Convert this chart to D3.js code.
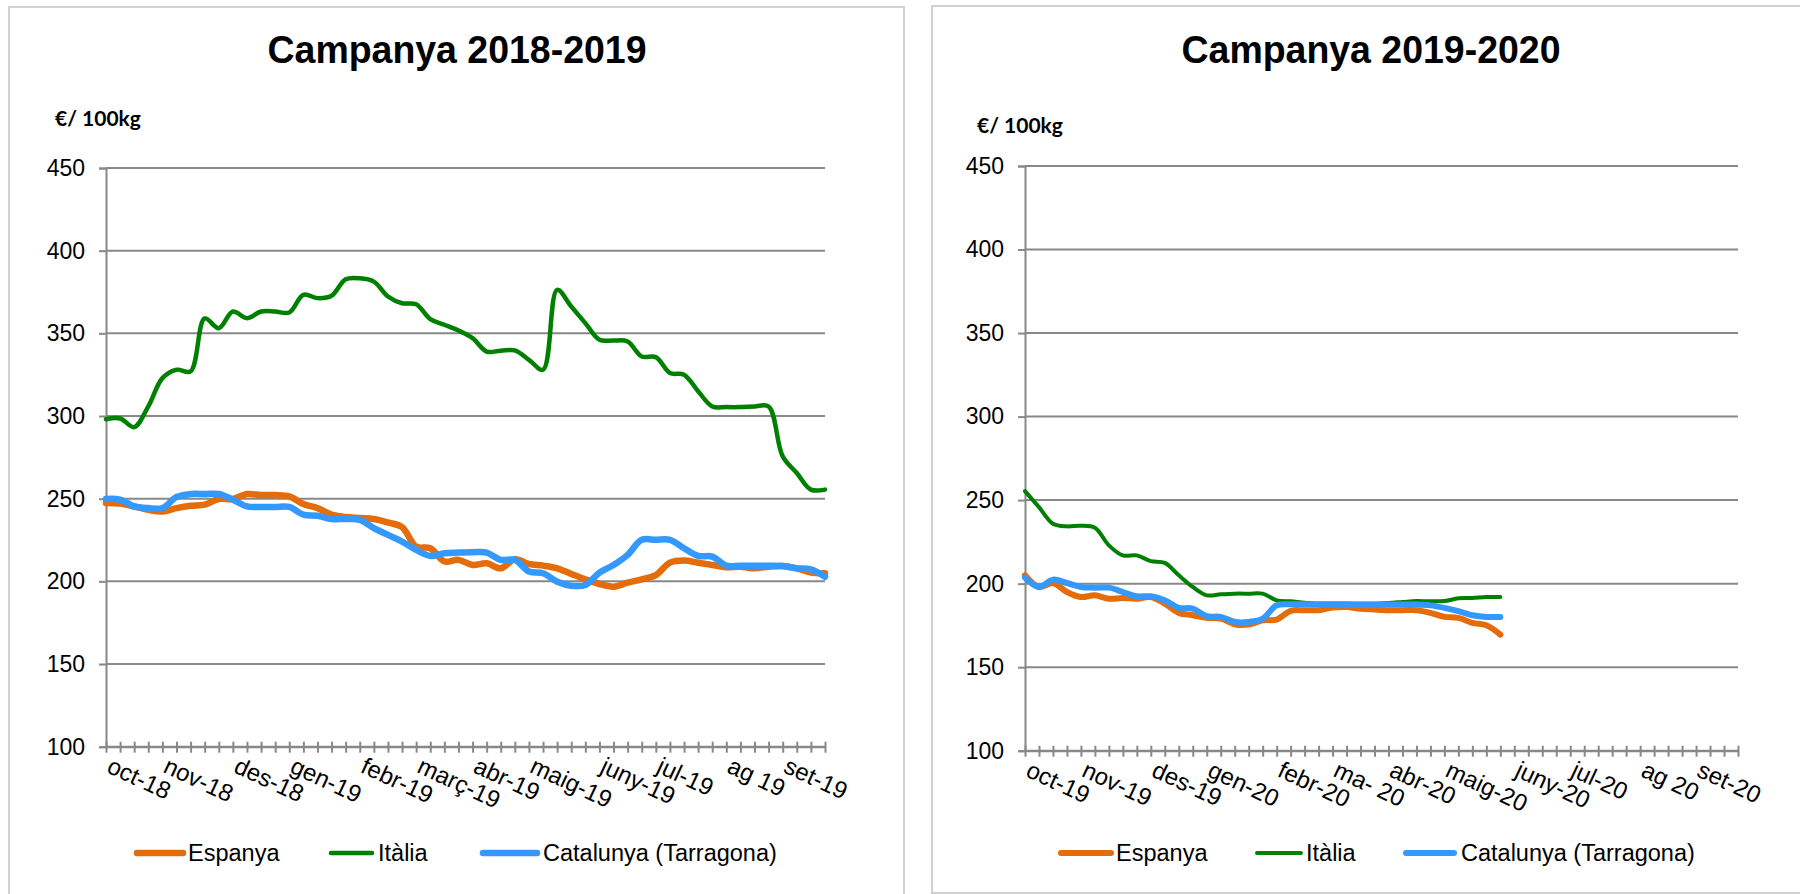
<!DOCTYPE html>
<html>
<head>
<meta charset="utf-8">
<script src="https://cdn.jsdelivr.net/npm/d3@7"></script>
<style>
  body { margin: 0; background: #fff; }
  svg { display: block; }
  text { font-family: "Liberation Sans", Arial, sans-serif; fill: #000; }
</style>
</head>
<body>
<script>
var width = 1800,
    height = 894;

// weekly categories, label only on first week of each month
var weeks1819 = [
  "oct-18", "", "", "",
  "nov-18", "", "", "", "",
  "des-18", "", "", "",
  "gen-19", "", "", "", "",
  "febr-19", "", "", "",
  "març-19", "", "", "",
  "abr-19", "", "", "",
  "maig-19", "", "", "", "",
  "juny-19", "", "", "",
  "jul-19", "", "", "", "",
  "ag 19", "", "", "",
  "set-19", "", "", ""
];

var weeks1920 = [
  "oct-19", "", "", "",
  "nov-19", "", "", "", "",
  "des-19", "", "", "",
  "gen-20", "", "", "", "",
  "febr-20", "", "", "",
  "ma- 20", "", "", "",
  "abr-20", "", "", "",
  "maig-20", "", "", "", "",
  "juny-20", "", "", "",
  "jul-20", "", "", "", "",
  "ag 20", "", "", "",
  "set-20", "", "", ""
];

var yTicks = [100, 150, 200, 250, 300, 350, 400, 450];

var seriesNames = ["Espanya", "Itàlia", "Catalunya (Tarragona)"];

// €/100kg, campanya 2018-2019
var espanya1819 = [247.4, 247, 245.3, 243.3, 242.3, 244.3, 245.7, 246.4, 249.8, 249.8,
  252.8, 252.2, 252.2, 251.4, 246.8, 244.3, 240.3, 238.9, 238.3, 237.7,
  235.6, 232.8, 221, 220, 212, 213, 209.9, 210.9, 207.9, 213.4,
  210.5, 209.5, 207.9, 204.5, 201.2, 198.4, 196.8, 199.2, 201.2, 203.8,
  211.3, 212.6, 211.3, 209.9, 208.5, 208.9, 207.9, 208.9, 209.3, 207.9,
  205.3, 204.9];
var italia1819 = [298, 298.5, 293.3, 305.8, 322.9, 328, 327, 359, 353.1, 363.2,
  359.2, 363.2, 363.2, 362.6, 373.3, 371.3, 372.7, 382.7, 383.3, 381.3,
  372.3, 368.2, 367.6, 358.6, 355.2, 351.7, 347.1, 339, 339.5, 339.7,
  334, 328, 376.3, 366.2, 356.2, 346.1, 345.7, 345.1, 336, 335.6,
  326, 325, 315, 305.8, 305.4, 305.4, 305.8, 305.8, 275.6, 265.5,
  255.5, 255.5];
var catalunya1819 = [249.8, 249.4, 245.3, 244.3, 244.3, 251, 252.8, 252.8, 252.8, 249.4,
  245.3, 245, 245, 245, 240.3, 239.7, 237.7, 237.7, 237.2, 232.2,
  228.1, 224.1, 219, 215.4, 217, 217.4, 217.6, 217.4, 213, 213,
  205.9, 204.9, 199.8, 197.4, 197.8, 205.3, 209.9, 216, 225.1, 225.1,
  225.1, 220, 215.4, 215, 209.5, 209.5, 209.5, 209.5, 209.3, 207.9,
  207.3, 202.8];

// campanya 2019-2020 (fins a maig)
var espanya1920 = [205, 198, 200.4, 195, 192, 193, 191, 191.4, 191, 192,
  188, 182.5, 181.1, 179.5, 179.1, 175.7, 175.5, 178.1, 178.5, 183.7,
  184.1, 184.1, 185.7, 186, 185, 184.5, 184.1, 184.1, 184.1, 182.5,
  180.1, 179.5, 176.5, 175.1, 169.5];
var italia1920 = [255.4, 245.8, 235.9, 234.3, 234.7, 233.5, 222.9, 216.9, 216.9, 213.5,
  212.4, 205, 198, 193, 193.6, 194, 194, 194, 190, 189.4,
  188.6, 188, 188, 188, 188, 188, 188.4, 189, 189.6, 189.4,
  189.6, 191.2, 191.4, 192, 192];
var catalunya1920 = [203.6, 198, 202.4, 200.4, 198, 197.6, 197.6, 195, 192.4, 192.4,
  190, 185.5, 185.1, 180.5, 180.1, 177.1, 177.1, 179.1, 187, 187.6,
  187.6, 187.6, 187.6, 187.6, 187.5, 187.5, 187.5, 187.5, 187.5, 187,
  185.5, 183.5, 181.1, 180.1, 180.1];

var colors = ['#E46C0A', '#008000', '#3399FF'];

var svg = d3.select('body').append('svg')
    .attr('width', width)
    .attr('height', height);

var panels = [
  {
    box: [9, 7, 895, 910],
    title: "Campanya 2018-2019", titleX: 457,
    unitX: 55, unitY: 126,
    plot: [106, 168, 719, 578.7],
    cats: weeks1819,
    series: [espanya1819, italia1819, catalunya1819],
    widths: [6.5, 4.5, 6.5],
    // [line start, line end, text x]
    legend: [[137, 183, 188], [331, 372, 378], [483, 537, 543]]
  },
  {
    box: [932, 6, 900, 887],
    title: "Campanya 2019-2020", titleX: 1371,
    unitX: 977, unitY: 133,
    plot: [1025, 166, 713, 584.7],
    cats: weeks1920,
    series: [espanya1920, italia1920, catalunya1920],
    widths: [6, 4, 6],
    legend: [[1061, 1111, 1116], [1257, 1301, 1306], [1406, 1454, 1461]]
  }
];

panels.forEach(drawPanel);

function drawPanel(p) {
  svg.append('rect')
      .attr('x', p.box[0])
      .attr('y', p.box[1])
      .attr('width', p.box[2])
      .attr('height', p.box[3])
      .attr('fill', 'none')
      .attr('stroke', '#d0d0d0')
      .attr('stroke-width', 2);

  svg.append('text')
      .attr('x', p.titleX)
      .attr('y', 63)
      .attr('text-anchor', 'middle')
      .attr('textLength', 379)
      .attr('lengthAdjust', 'spacingAndGlyphs')
      .style('font-size', '39px')
      .style('font-weight', 'bold')
      .text(p.title);

  svg.append('text')
      .attr('x', p.unitX)
      .attr('y', p.unitY)
      .style('font-family', 'Lato, sans-serif')
      .style('font-size', '21px')
      .style('font-weight', 'bold')
      .text('€/ 100kg');

  var w = p.plot[2], h = p.plot[3];
  var g = svg.append('g')
      .attr('transform', 'translate(' + p.plot[0] + ',' + p.plot[1] + ')');

  var x = d3.scalePoint()
      .domain(d3.range(p.cats.length))
      .range([0, w]);

  var y = d3.scaleLinear()
      .domain([100, 450])
      .range([h, 0]);

  // gridlines
  g.append('g')
      .selectAll('line')
      .data(yTicks)
      .enter().append('line')
      .attr('x1', 0)
      .attr('x2', w)
      .attr('y1', function (d) { return y(d); })
      .attr('y2', function (d) { return y(d); })
      .attr('stroke', '#888')
      .attr('stroke-width', 2);

  var yAxis = g.append('g')
      .call(d3.axisLeft(y).tickValues(yTicks).tickSize(7).tickPadding(14));
  yAxis.select('.domain').attr('stroke', '#888').attr('stroke-width', 2);
  yAxis.selectAll('.tick line').attr('stroke', '#888').attr('stroke-width', 2);
  yAxis.selectAll('text')
      .style('font-family', '"Liberation Sans", Arial, sans-serif')
      .style('font-size', '23px')
      .attr('fill', '#000');

  var xAxis = g.append('g')
      .attr('transform', 'translate(0,' + h + ')')
      .call(d3.axisBottom(x).tickSize(6).tickSizeOuter(0).tickFormat(function (i) { return p.cats[i]; }));
  xAxis.select('.domain').attr('stroke', '#888').attr('stroke-width', 2);
  xAxis.selectAll('.tick line')
      .attr('y1', -5)
      .attr('stroke', '#888')
      .attr('stroke-width', 2);
  xAxis.selectAll('text')
      .style('font-family', '"Liberation Sans", Arial, sans-serif')
      .style('font-size', '24px')
      .attr('fill', '#000')
      .attr('text-anchor', 'start')
      .attr('y', 0)
      .attr('dy', 0)
      .attr('transform', 'translate(-1,25) rotate(25)');

  var line = d3.line()
      .defined(function (d) { return d != null; })
      .x(function (d, i) { return x(i); })
      .y(function (d) { return y(d); })
      .curve(d3.curveCatmullRom.alpha(0.5));

  p.series.forEach(function (s, k) {
    g.append('path')
        .datum(s)
        .attr('d', line)
        .attr('fill', 'none')
        .attr('stroke', colors[k])
        .attr('stroke-width', p.widths[k])
        .attr('stroke-linejoin', 'round')
        .attr('stroke-linecap', 'round');
  });

  // legend
  var lg = svg.append('g');
  seriesNames.forEach(function (name, k) {
    var it = p.legend[k];
    lg.append('line')
        .attr('x1', it[0])
        .attr('x2', it[1])
        .attr('y1', 853)
        .attr('y2', 853)
        .attr('stroke', colors[k])
        .attr('stroke-width', p.widths[k])
        .attr('stroke-linecap', 'round');
    lg.append('text')
        .attr('x', it[2])
        .attr('y', 861)
        .style('font-size', '23.5px')
        .text(name);
  });
}
</script>
</body>
</html>
